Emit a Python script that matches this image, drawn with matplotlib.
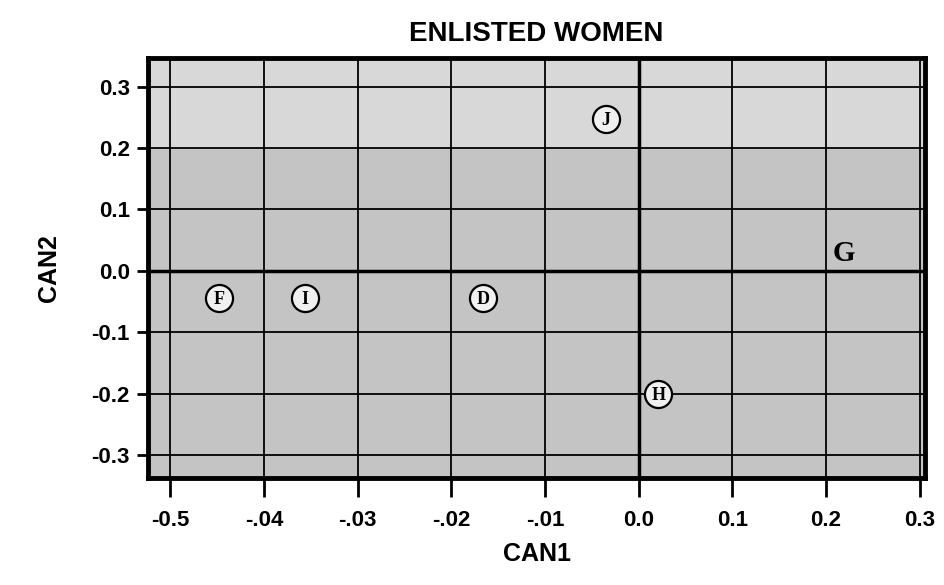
import matplotlib
matplotlib.use('Agg')
import matplotlib.pyplot as plt

# group centroids on the two canonical axes
labels = ['J', 'G', 'F', 'I', 'D', 'H']
can1 = [-0.0035, 0.0219, -0.0448, -0.0356, -0.0166, 0.0021]
can2 = [0.248, 0.033, -0.044, -0.044, -0.044, -0.200]
circled = [True, False, True, True, True, True]

xticks = [-0.05, -0.04, -0.03, -0.02, -0.01, 0.0, 0.01, 0.02, 0.03]
xticklabels = ['-0.5', '-.04', '-.03', '-.02', '-.01', '0.0', '0.1', '0.2', '0.3']
yticks = [0.3, 0.2, 0.1, 0.0, -0.1, -0.2, -0.3]
yticklabels = ['0.3', '0.2', '0.1', '0.0', '-0.1', '-0.2', '-0.3']

plt.rcParams['font.family'] = ['Liberation Sans', 'DejaVu Sans']

fig = plt.figure(figsize=(9.45, 5.85), dpi=100)
ax = fig.add_axes([0.1566, 0.183, 0.8224, 0.718])
ax.set_facecolor('#c4c4c4')
ax.axhspan(0.2, 0.36, color='#d8d8d8', zorder=0)

ax.set_xlim(-0.0524, 0.0306)
ax.set_ylim(-0.3375, 0.347)

ax.set_xticks(xticks)
ax.set_xticklabels(xticklabels)
ax.set_yticks(yticks)
ax.set_yticklabels(yticklabels)
ax.grid(True, color='black', linewidth=1.3, zorder=1)
ax.set_axisbelow(True)
ax.axhline(0, color='black', linewidth=2.5, zorder=2)
ax.axvline(0, color='black', linewidth=2.5, zorder=2)

for s in ax.spines.values():
    s.set_linewidth(3.5)

ax.tick_params(axis='x', direction='out', length=14, width=2, pad=9, labelsize=16)
ax.tick_params(axis='y', direction='out', length=8, width=2, pad=5, labelsize=16)
for t in ax.get_xticklabels() + ax.get_yticklabels():
    t.set_fontweight('bold')

for lab, x, y, c in zip(labels, can1, can2, circled):
    if c:
        ax.scatter(x, y, s=380, facecolor='#f0f0f0', edgecolor='black',
                   linewidth=1.6, zorder=4)
        ax.text(x, y, lab, ha='center', va='center_baseline', fontsize=13,
                fontweight='bold', family='Liberation Serif', zorder=5)
    else:
        ax.text(x, y, lab, ha='center', va='center_baseline', fontsize=21,
                fontweight='heavy', family='Liberation Serif', zorder=5)

ax.set_title('ENLISTED WOMEN', fontsize=20, fontweight='bold', pad=12)
ax.set_xlabel('CAN1', fontsize=18, fontweight='bold', labelpad=8)
ax.set_ylabel('CAN2', fontsize=18, fontweight='bold', labelpad=22)

fig.savefig('out.png', dpi=100)
